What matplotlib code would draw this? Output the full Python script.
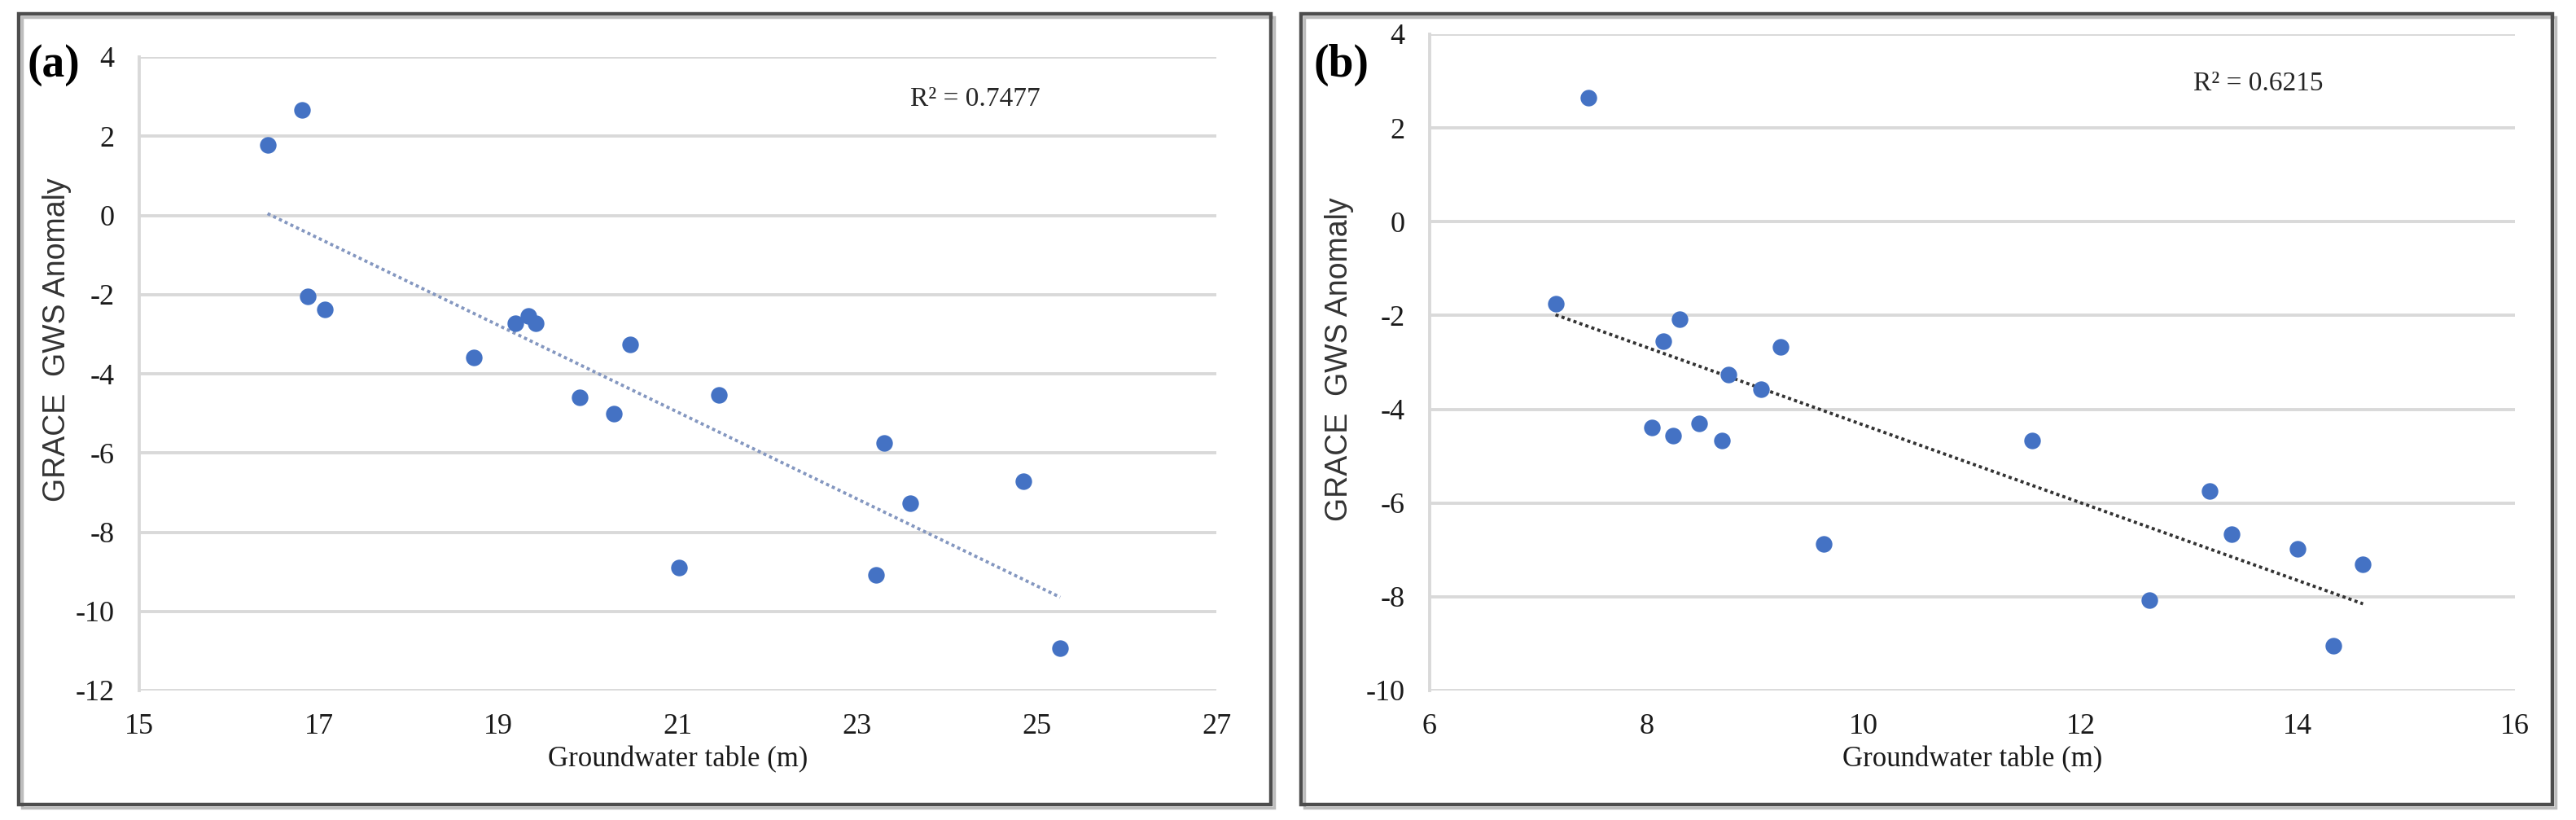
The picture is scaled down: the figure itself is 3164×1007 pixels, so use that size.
import numpy as np
import matplotlib
matplotlib.use("Agg")
import matplotlib.pyplot as plt
from matplotlib.patches import Rectangle

plt.rcParams["axes.unicode_minus"] = False

# panel (a): groundwater table (m) vs GRACE GWS anomaly
GWT_A = [16.43, 16.81, 16.88, 17.07, 19.19, 19.34, 19.42, 18.73, 20.47,
         19.91, 20.29, 21.46, 23.30, 24.85, 23.59, 21.01, 23.21, 25.26]
GWS_A = [1.78, 2.66, -2.05, -2.38, -2.73, -2.54, -2.73, -3.59, -3.26,
         -4.60, -5.00, -4.53, -5.75, -6.72, -7.27, -8.90, -9.08, -10.93]
R2_A = "R² = 0.7477"

# panel (b)
GWT_B = [7.46, 7.16, 8.30, 8.15, 9.23, 8.75, 9.05, 8.05, 8.24, 8.48,
         8.69, 9.63, 11.55, 13.19, 13.39, 14.00, 14.60, 12.63, 14.33]
GWS_B = [2.65, -1.75, -2.08, -2.55, -2.67, -3.26, -3.57, -4.39, -4.56, -4.30,
         -4.67, -6.87, -4.67, -5.74, -6.66, -6.97, -7.30, -8.07, -9.04]
R2_B = "R² = 0.6215"

XLABEL = "Groundwater table (m)"
YLABEL = "GRACE  GWS Anomaly"

W, H = 3164, 1007
DOT = "#4472c4"
GRID = "#d9d9d9"
SERIF = ["Liberation Serif", "DejaVu Serif"]
SANS = ["Liberation Sans", "DejaVu Sans"]


def px_axes(fig, left, top, right, bottom):
    return fig.add_axes([left / W, 1 - bottom / H, (right - left) / W, (bottom - top) / H])


def panel(ax, x, y, xlim, ylim, trend_color, r2, r2_pos, ylab_pos, xlab_y):
    ax.scatter(x, y, s=215, color=DOT, zorder=3, linewidths=0)

    # linear trendline (least squares), drawn over the data range
    slope, icpt = np.polyfit(x, y, 1)
    xs = np.array([min(x), max(x)])
    ax.plot(xs, slope * xs + icpt, linestyle=(0, (1, 1)), color=trend_color,
            linewidth=2.8, zorder=2)

    ax.set_xlim(*xlim)
    ax.set_ylim(*ylim)
    ax.set_xticks(np.arange(xlim[0], xlim[1] + 1, 2))
    ax.set_yticks(np.arange(ylim[0], ylim[1] + 1, 2))
    ax.grid(True, axis="y", color=GRID, linewidth=2.8)
    ax.set_axisbelow(True)
    for s in ["top", "right", "bottom"]:
        ax.spines[s].set_visible(False)
    ax.spines["left"].set_color(GRID)
    ax.spines["left"].set_linewidth(2.8)
    ax.tick_params(length=0, labelsize=26, colors="#1a1a1a")
    ax.tick_params(axis="y", pad=22)
    ax.tick_params(axis="x", pad=20)
    for lab in ax.get_xticklabels() + ax.get_yticklabels():
        lab.set_family(SERIF)

    ax.set_xlabel(XLABEL, family=SERIF, fontsize=25, va="center", color="#1a1a1a")
    ax.xaxis.set_label_coords(0.5, xlab_y)
    ax.set_ylabel(YLABEL, family=SANS, fontsize=27, va="center", color="#333333")
    ax.yaxis.set_label_coords(*ylab_pos)

    ax.text(r2_pos[0], r2_pos[1], r2, transform=ax.transAxes, family=SERIF,
            fontsize=24, va="center", ha="left", color="#262626")


fig = plt.figure(figsize=(W / 100, H / 100), dpi=100)
fig.patch.set_facecolor("white")

# panel frames with a faint shadow
for x0, x1 in [(23, 1561), (1598, 3135)]:
    fig.patches.append(Rectangle((x0 / W + 0.0012, 0.0189 - 0.004), (x1 - x0) / W, (988 - 17) / H,
                                 transform=fig.transFigure, fill=False,
                                 edgecolor="#bdbdbd", linewidth=2.5, zorder=0))
    fig.patches.append(Rectangle((x0 / W, 0.0189), (x1 - x0) / W, (988 - 17) / H,
                                 transform=fig.transFigure, fill=False,
                                 edgecolor="#4d4d4d", linewidth=3.2, zorder=1))

ax_a = px_axes(fig, 171, 70, 1494, 848)
panel(ax_a, GWT_A, GWS_A, (15, 27), (-12, 4), "#8497c0", R2_A,
      (0.716, 0.933), (-0.076, 0.554), -0.109)

ax_b = px_axes(fig, 1756, 42, 3089, 848)
panel(ax_b, GWT_B, GWS_B, (6, 16), (-10, 4), "#333333", R2_B,
      (0.704, 0.925), (-0.083, 0.505), -0.105)

fig.text(33 / W, 1 - 80 / H, "(a)", family=SERIF, fontsize=40, weight="bold",
         ha="left", va="center")
fig.text(1613 / W, 1 - 80 / H, "(b)", family=SERIF, fontsize=40, weight="bold",
         ha="left", va="center")

fig.savefig("out.png", dpi=100, facecolor="white")
